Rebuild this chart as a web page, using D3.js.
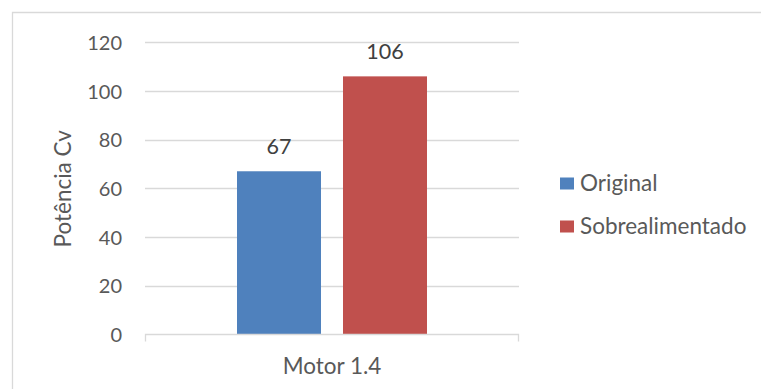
<!DOCTYPE html>
<html>
<head>
<meta charset="utf-8">
<script src="https://cdn.jsdelivr.net/npm/d3@7/dist/d3.min.js"></script>
<style>
  html, body { margin: 0; padding: 0; background: #fff; }
  svg { display: block; font-family: Lato, "Open Sans", sans-serif; }
</style>
</head>
<body>
<svg id="chart" width="761" height="389"></svg>
<script>
// Potência (cv) do motor 1.4: original vs sobrealimentado
const categories = ["Motor 1.4"];
const seriesNames = ["Original", "Sobrealimentado"];
const seriesColors = ["#4f81bd", "#c0504d"];
const originalValues = [67];
const sobrealimentadoValues = [106];
const yTicks = [0, 20, 40, 60, 80, 100, 120];
const yTitle = "Potência Cv";

const seriesValues = [originalValues, sobrealimentadoValues];

const svg = d3.select("#chart");
const W = 761, H = 389;

// chart frame (top and left edges visible)
svg.append("path")
  .attr("d", `M12.5,${H} L12.5,12.5 L${W},12.5`)
  .attr("fill", "none")
  .attr("stroke", "#d9d9d9")
  .attr("stroke-width", 1.3);

const plot = { left: 145, right: 519, top: 42.3, bottom: 334.3 };

const y = d3.scaleLinear().domain([0, 120]).range([plot.bottom, plot.top]);
const x0 = d3.scaleBand().domain(categories)
  .range([plot.left, plot.right])
  .paddingInner(0.492).paddingOuter(0.246);
const x1 = d3.scaleBand().domain(seriesNames)
  .range([0, x0.bandwidth()])
  .paddingInner(0.2075).paddingOuter(0);

// horizontal gridlines
svg.append("g").selectAll("line")
  .data(yTicks.filter(t => t !== 0))
  .join("line")
  .attr("x1", plot.left).attr("x2", plot.right)
  .attr("y1", d => Math.round(y(d)) + 0.5).attr("y2", d => Math.round(y(d)) + 0.5)
  .attr("stroke", "#d9d9d9").attr("stroke-width", 1.3);

// y axis labels
const yAxis = d3.axisLeft(y).tickValues(yTicks).tickSize(0).tickPadding(0);
const gy = svg.append("g").attr("transform", `translate(122,0)`).call(yAxis);
gy.select(".domain").remove();
gy.selectAll("text")
  .attr("fill", "#595959")
  .attr("dy", "0.36em")
  .style("font-size", "20px")
  .style("font-family", "Lato, sans-serif");

// bars
const groups = svg.append("g").selectAll("g")
  .data(categories)
  .join("g")
  .attr("transform", d => `translate(${x0(d)},0)`);

groups.selectAll("rect")
  .data((d, ci) => seriesNames.map((s, si) => ({ s, si, v: seriesValues[si][ci] })))
  .join("rect")
  .attr("x", d => x1(d.s))
  .attr("width", x1.bandwidth())
  .attr("y", d => y(d.v))
  .attr("height", d => y(0) - y(d.v))
  .attr("fill", d => seriesColors[d.si]);

// value labels
groups.selectAll("text.val")
  .data((d, ci) => seriesNames.map((s, si) => ({ s, si, v: seriesValues[si][ci] })))
  .join("text")
  .attr("class", "val")
  .attr("x", d => x1(d.s) + x1.bandwidth() / 2)
  .attr("y", d => y(d.v) - 17)
  .attr("text-anchor", "middle")
  .attr("fill", "#404040")
  .style("font-size", "21.5px")
  .text(d => d.v);

// x axis
const xAxis = d3.axisBottom(x0).tickSize(0).tickPadding(0);
const gx = svg.append("g").attr("transform", `translate(0,${Math.round(y(0)) + 0.5})`).call(xAxis);
gx.select(".domain").remove();
gx.append("path")
  .attr("d", `M${plot.left + 0.5},7 V0 H${plot.right - 0.5} V7`)
  .attr("fill", "none")
  .attr("stroke", "#d9d9d9").attr("stroke-width", 1.3);
gx.selectAll(".tick text")
  .attr("y", 39)
  .attr("dy", 0)
  .attr("fill", "#595959")
  .style("font-size", "22.5px")
  .style("font-family", "Lato, sans-serif");

// y axis title
svg.append("text")
  .attr("transform", `translate(70.5,${(plot.top + plot.bottom) / 2 + 0.5}) rotate(-90)`)
  .attr("text-anchor", "middle")
  .attr("fill", "#595959")
  .style("font-size", "22.5px")
  .text(yTitle);

// legend
const legend = svg.append("g").attr("transform", "translate(560,0)");
const legendRows = legend.selectAll("g")
  .data(seriesNames)
  .join("g")
  .attr("transform", (d, i) => `translate(0,${183.5 + i * 43})`);
legendRows.append("rect")
  .attr("x", 0).attr("y", -6)
  .attr("width", 14).attr("height", 12)
  .attr("fill", (d, i) => seriesColors[i]);
legendRows.append("text")
  .attr("x", 20).attr("y", 7.5)
  .attr("fill", "#595959")
  .style("font-size", "22.5px")
  .text(d => d);
</script>
</body>
</html>
